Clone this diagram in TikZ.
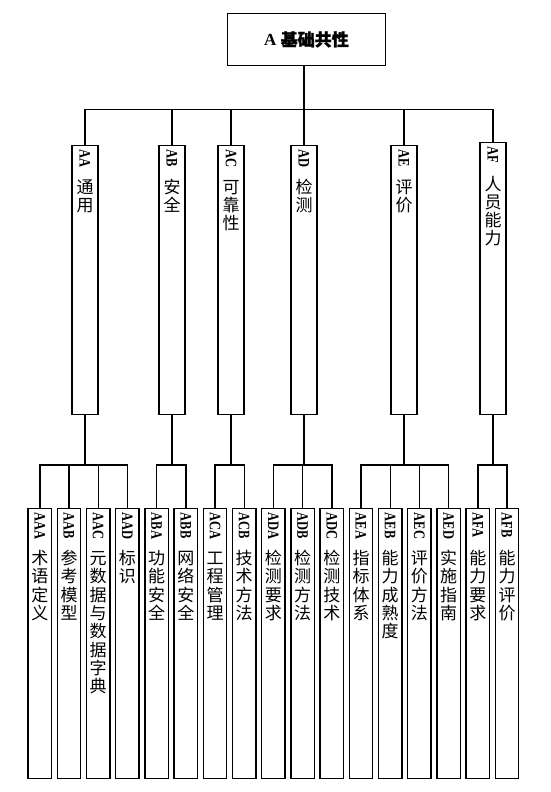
\documentclass[tikz,border=0pt]{standalone}
\usepackage{fontspec}
\usepackage{graphicx}
\setmainfont{Liberation Serif}
\newfontfamily\cjk{Noto Sans CJK SC}
\newfontfamily\cjkb[FakeBold=1.2]{Noto Sans CJK SC}
\newcommand{\latinlab}[1]{\rotatebox{-90}{\scalebox{0.78}[1]{\fontsize{16}{16}\selectfont\bfseries #1}}}
\newcommand{\vlab}[5]{% height, width, gap, latin, cjk
\parbox[t][#1][t]{#2}{\centering\vspace*{4pt}\smash{\latinlab{#4}}\par\vspace{#3}{\cjk\fontsize{17}{18.3}\selectfont #5\par}}}
\tikzset{
  lvl/.style={draw, line width=1.4pt, inner sep=0pt, anchor=north},
  conn/.style={line width=1.4pt}
}
\begin{document}
\begin{tikzpicture}[x=1pt,y=-1pt]
\useasboundingbox (0,0) rectangle (550,792);
% top node
\node[lvl, minimum width=158pt, minimum height=52pt] (top) at (306.5,12.7)
  {\fontsize{17}{17}\selectfont\bfseries A {\cjkb 基础共性}};
% middle level
\foreach \x/\y/\h/\n/\t in {
  85/145/269/AA/{通\\用},
  172/145/269/AB/{安\\全},
  231/145/269/AC/{可\\靠\\性},
  304/145/269/AD/{检\\测},
  404/145/269/AE/{评\\价},
  493/142/272/AF/{人\\员\\能\\力}}
  \node[lvl] (\n) at (\x,\y) {\vlab{\h pt}{26pt}{25pt}{\n}{\t}};
% bottom level
\foreach \i/\n/\t in {
  0/AAA/{术\\语\\定\\义},
  1/AAB/{参\\考\\模\\型},
  2/AAC/{元\\数\\据\\与\\数\\据\\字\\典},
  3/AAD/{标\\识},
  4/ABA/{功\\能\\安\\全},
  5/ABB/{网\\络\\安\\全},
  6/ACA/{工\\程\\管\\理},
  7/ACB/{技\\术\\方\\法},
  8/ADA/{检\\测\\要\\求},
  9/ADB/{检\\测\\方\\法},
  10/ADC/{检\\测\\技\\术},
  11/AEA/{指\\标\\体\\系},
  12/AEB/{能\\力\\成\\熟\\度},
  13/AEC/{评\\价\\方\\法},
  14/AED/{实\\施\\指\\南},
  15/AFA/{能\\力\\要\\求},
  16/AFB/{能\\力\\评\\价}}
  \node[lvl] (\n) at ({39.8+29.2*\i},508) {\vlab{270pt}{23.5pt}{33.5pt}{\n}{\t}};
% connectors
\coordinate (bar) at (0,109.4);
\coordinate (gbar) at (0,465);
\draw[conn] (top.south -| AD.north) -- (AD.north);
\foreach \m in {AA,AB,AC,AE,AF}
  \draw[conn] (AD.north |- bar) -| (\m.north);
\foreach \p/\c in {AA/AAA,AA/AAB,AA/AAC,AA/AAD,AB/ABA,AB/ABB,AC/ACA,AC/ACB,
  AD/ADA,AD/ADB,AD/ADC,AE/AEA,AE/AEB,AE/AEC,AE/AED,AF/AFA,AF/AFB}
  \draw[conn] (\p.south) -- (\p.south |- gbar) -| (\c.north);
\end{tikzpicture}
\end{document}
